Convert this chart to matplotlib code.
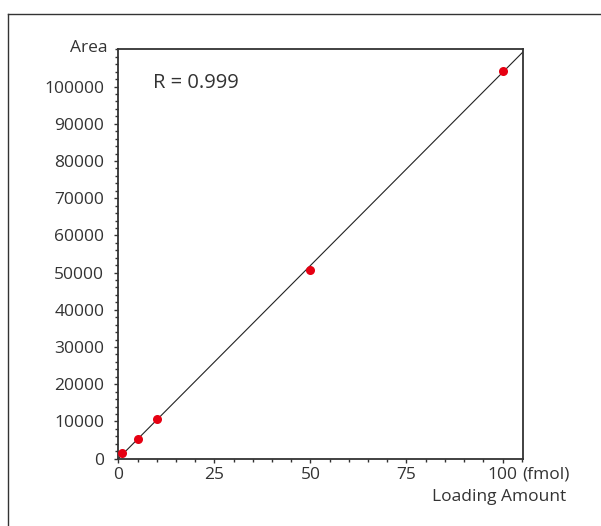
import numpy as np
import matplotlib
matplotlib.use("Agg")
import matplotlib.pyplot as plt
from matplotlib.ticker import MultipleLocator
from matplotlib.lines import Line2D

# Data
loading = [1, 5, 10, 50, 100]
area = [1400, 5200, 10700, 50800, 104300]
r_text = "R = 0.999"
x_ticks = [0, 25, 50, 75, 100]
y_ticks = [0, 10000, 20000, 30000, 40000, 50000, 60000, 70000, 80000, 90000, 100000]

plt.rcParams['font.family'] = ['Open Sans', 'DejaVu Sans']
txt = '#333333'
W, H = 601, 526
fig = plt.figure(figsize=(W/100, H/100), dpi=100)

# partial outer frame
fig.add_artist(Line2D([8/W, 8/W], [-0.1, 1-13.5/H], transform=fig.transFigure, color='#333333', lw=1.0))
fig.add_artist(Line2D([8/W, 1.1], [1-13.5/H, 1-13.5/H], transform=fig.transFigure, color='#333333', lw=1.0))

L, R, B, T = 118.3/W, 523.3/W, 1-458.7/H, 1-49.3/H
ax = fig.add_axes([L, B, R-L, T-B])
ax.set_xlim(0, 105.4)
ax.set_ylim(0, 110000)

# fitted line
k, b = np.polyfit(loading, area, 1)
xs = np.array([0, 105.4])
ax.plot(xs, k*xs + b, color='#222222', lw=0.8, zorder=2, clip_on=True)
ax.plot(loading, area, 'o', color='#e60012', ms=6.5, mec='none', zorder=3, clip_on=False)

for s in ax.spines.values():
    s.set_color('#333333')
    s.set_linewidth(1.3)

ax.set_xticks(x_ticks)
ax.set_yticks(y_ticks)
ax.set_yticklabels([str(v) for v in y_ticks])
ax.xaxis.set_minor_locator(MultipleLocator(5))
ax.yaxis.set_minor_locator(MultipleLocator(2000))
ax.tick_params(axis='both', which='major', length=3.2, width=1.0, color='#333333',
               labelsize=12.5, labelcolor=txt, direction='out')
ax.tick_params(axis='both', which='minor', length=2.4, width=1.0, color='#333333', direction='out')
ax.tick_params(axis='y', which='major', pad=7)
ax.tick_params(axis='x', which='major', pad=2.5)

fig.text(153.3/W, 1-83/H, r_text, fontsize=14.5, color=txt, ha='left', va='center')
fig.text(107/W, 1-48/H, "Area", fontsize=12.5, color=txt, ha='right', va='center')
xl_top = 458.7 + (3.2 + 2.5) * 100/72
fig.text(522/W, 1-xl_top/H, "(fmol)", fontsize=12.5, color=txt, ha='left', va='top')
fig.text(566/W, 1-497/H, "Loading Amount", fontsize=12.5, color=txt, ha='right', va='center')

fig.savefig("out.png", dpi=100)
